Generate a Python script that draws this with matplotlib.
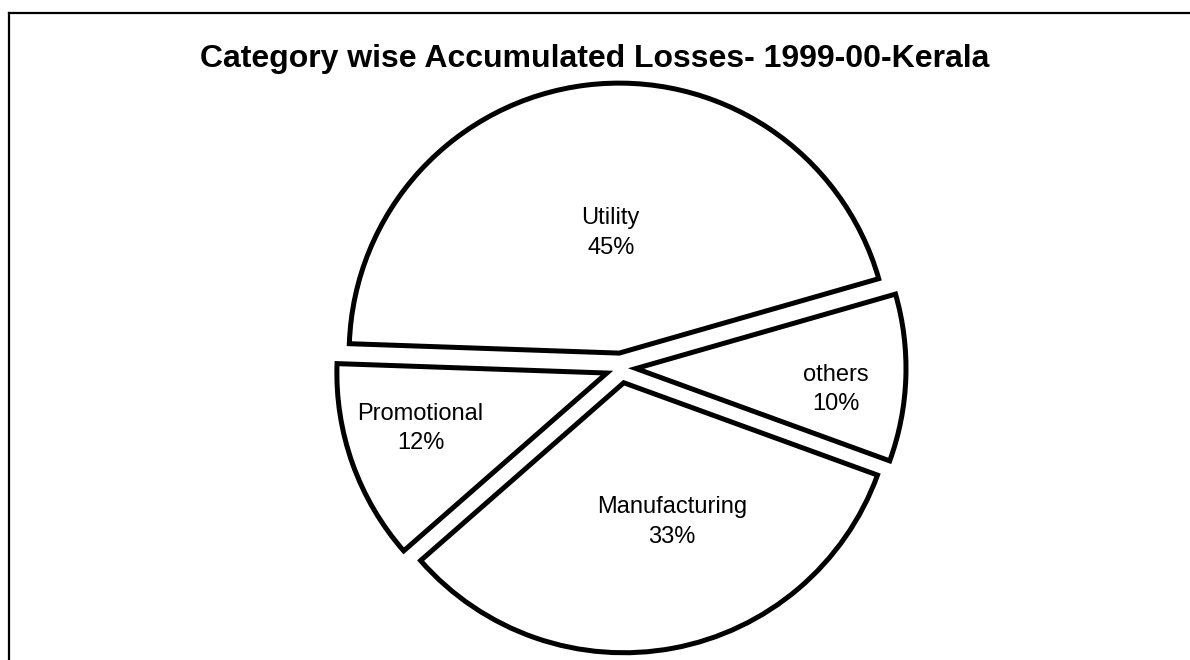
import matplotlib.pyplot as plt
from matplotlib.lines import Line2D
import numpy as np

# Accumulated losses by category, 1999-00 (Kerala)
categories = ['Utility', 'Promotional', 'Manufacturing', 'others']
shares = [45, 12, 33, 10]

# where each label sits inside its slice (fraction of radius, angle nudge in degrees)
label_dist = [0.445, 0.72, 0.546, 0.745]
label_shift = [-3, -3, 8.5, -4]

plt.rcParams['font.family'] = ['Liberation Sans', 'DejaVu Sans']

fig = plt.figure(figsize=(11.9, 6.6), dpi=100)
ax = fig.add_axes([0, 0, 1, 1])

R = 270
wedges, _ = ax.pie(shares, center=(621, 292), radius=R, startangle=16,
                   counterclock=True, explode=[15] * len(shares),
                   colors=['white'] * len(shares),
                   wedgeprops=dict(edgecolor='black', linewidth=3.6,
                                   joinstyle='miter'))
ax.set_xlim(0, 1190)
ax.set_ylim(0, 660)
ax.set_aspect('equal')
ax.axis('off')

for w, cat, val, d, s in zip(wedges, categories, shares, label_dist, label_shift):
    ang = np.deg2rad((w.theta1 + w.theta2) / 2 + s)
    cx, cy = w.center
    ax.text(cx + d * R * np.cos(ang), cy + d * R * np.sin(ang),
            f'{cat}\n{val}%', ha='center', va='center', fontsize=17,
            linespacing=1.45)

fig.text(0.5, 1 - 59 / 660, 'Category wise Accumulated Losses- 1999-00-Kerala',
         ha='center', va='center', fontsize=23, fontweight='bold')

# chart border (top and left only show)
fig.add_artist(Line2D([9 / 1190, 1.01], [647 / 660, 647 / 660], lw=1.6,
                      color='black', transform=fig.transFigure))
fig.add_artist(Line2D([9 / 1190, 9 / 1190], [-0.01, 647 / 660], lw=1.6,
                      color='black', transform=fig.transFigure))

fig.savefig('out.png', dpi=100)
